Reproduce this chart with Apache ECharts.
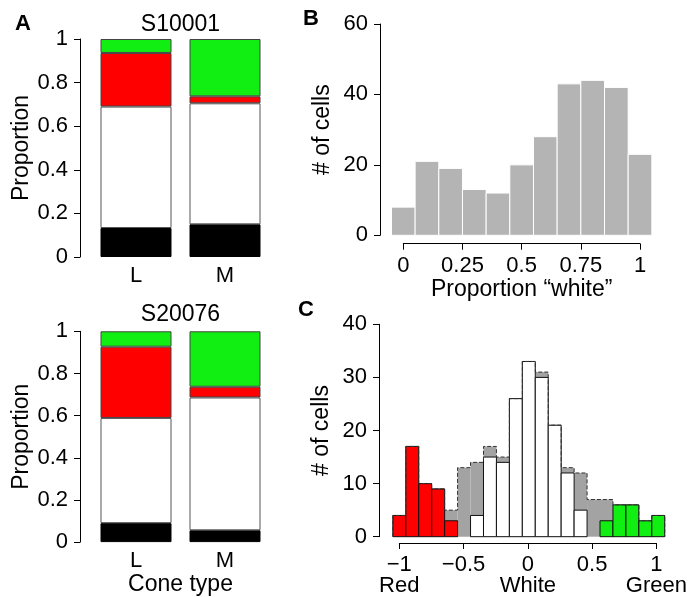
<!DOCTYPE html>
<html>
<head>
<meta charset="utf-8">
<script src="https://cdn.jsdelivr.net/npm/echarts@6/dist/echarts.min.js"></script>
<style>
  html, body { margin: 0; padding: 0; background: #fff; }
  #chart { width: 690px; height: 597px; }
</style>
</head>
<body>
<div id="chart"></div>
<script>
// panel A: proportion of each cone class, per cone type
const coneTypes = ['L', 'M'];
const s10001Black = [0.133, 0.150];
const s10001White = [0.557, 0.555];
const s10001Red = [0.246, 0.032];
const s10001Green = [0.064, 0.263];
const s20076Black = [0.090, 0.056];
const s20076White = [0.499, 0.630];
const s20076Red = [0.338, 0.051];
const s20076Green = [0.073, 0.263];

// panel B: histogram of proportion "white"
const whiteBins = [0, 0.1, 0.2, 0.3, 0.4, 0.5, 0.6, 0.7, 0.8, 0.9, 1.0];
const whiteCounts = [8, 21, 19, 13, 12, 20, 28, 43, 44, 42, 23];

// panel C: red-white-green index histogram
const indexBins = [-1.0, -0.9, -0.8, -0.7, -0.6, -0.5, -0.4, -0.3, -0.2, -0.1, 0,
  0.1, 0.2, 0.3, 0.4, 0.5, 0.6, 0.7, 0.8, 0.9, 1.0];
const totalCounts = [4, 17, 10, 9, 5, 13, 14, 17, 15, 26, 33, 31, 21, 13, 12, 7, 7, 6, 6, 3, 4];
const redCounts = [4, 17, 10, 9, 3, 0, 0, 0, 0, 0, 0, 0, 0, 0, 0, 0, 0, 0, 0, 0, 0];
const whiteIdxCounts = [0, 0, 0, 0, 0, 0, 4, 15, 14, 26, 33, 30, 21, 12, 5, 0, 0, 0, 0, 0, 0];
const greenCounts = [0, 0, 0, 0, 0, 0, 0, 0, 0, 0, 0, 0, 0, 0, 0, 0, 3, 6, 6, 3, 4];
const indexEnds = {'-1': 'Red', '0': 'White', '1': 'Green'};

const FONT = '"Liberation Sans", Arial, sans-serif';
const RED = '#ff0000';
const GREEN = '#11ee11';
const halfBin = 0.05;

const chart = echarts.init(document.getElementById('chart'));

function stackSeries(idx, black, white, red, green) {
  const parts = [[black, '#000', '#000'], [white, '#fff', '#555'], [red, RED, '#444'], [green, GREEN, '#444']];
  return parts.map(function (p) {
    return {
      type: 'bar', xAxisIndex: idx, yAxisIndex: idx, stack: 'a' + idx,
      barWidth: 71, data: p[0], silent: true,
      itemStyle: {color: p[1], borderColor: p[2], borderWidth: 1}
    };
  });
}

function histSeries(idx, bins, counts, fill, stroke) {
  return {
    type: 'custom', xAxisIndex: idx, yAxisIndex: idx, silent: true,
    data: bins.map(function (b, i) { return [b, counts[i]]; }),
    renderItem: function (params, api) {
      const x = api.value(0), v = api.value(1);
      if (!v) return null;
      const p0 = api.coord([x - halfBin, v]);
      const p1 = api.coord([x + halfBin, 0]);
      return {
        type: 'rect',
        shape: {x: p0[0], y: p0[1], width: p1[0] - p0[0], height: p1[1] - p0[1]},
        style: {fill: fill, stroke: stroke, lineWidth: 1}
      };
    }
  };
}

// outline of the total histogram as a step path
const outline = [[indexBins[0] - halfBin, 0]];
indexBins.forEach(function (b, i) {
  outline.push([b - halfBin, totalCounts[i]]);
  outline.push([b + halfBin, totalCounts[i]]);
});
outline.push([indexBins[indexBins.length - 1] + halfBin, 0]);

const tickStyle = {show: true, inside: false, length: 6, lineStyle: {color: '#000', width: 1}};
function axisLine() { return {show: true, onZero: false, lineStyle: {color: '#000', width: 1}}; }
const labelStyle = {color: '#000', fontSize: 22, fontFamily: FONT, showMinLabel: true, showMaxLabel: true};
const nameStyle = {color: '#000', fontSize: 23, fontFamily: FONT};

function valueY(idx, max, interval, name, gap, offset) {
  return {
    type: 'value', gridIndex: idx, min: 0, max: max, interval: interval, offset: offset || 0,
    name: name, nameLocation: 'middle', nameGap: gap, nameTextStyle: nameStyle,
    axisLine: axisLine(), axisTick: tickStyle, splitLine: {show: false},
    axisLabel: Object.assign({margin: 12}, labelStyle)
  };
}

function hiddenAxis(idx, min, max) {
  return {type: 'value', gridIndex: idx, min: min, max: max, show: false, splitLine: {show: false},
    axisLine: {onZero: false}};
}

const minus = function (v) { return String(v).replace('-', '\u2212'); };

const option = {
  backgroundColor: '#fff',
  animation: false,
  grid: [
    {left: 91.5, width: 178, top: 39, height: 218},
    {left: 91.5, width: 178, top: 331.3, height: 218},
    {left: 380, width: 283.3, top: 24, height: 211.3},
    {left: 403.3, width: 236.7, top: 233.7, height: 10},
    {left: 379, width: 299.6, top: 324.3, height: 212.4},
    {left: 399.3, width: 259, top: 534, height: 10}
  ],
  xAxis: [
    {type: 'category', gridIndex: 0, data: coneTypes, axisLine: {show: false}, axisTick: {show: false},
      axisLabel: Object.assign({margin: 8}, labelStyle)},
    {type: 'category', gridIndex: 1, data: coneTypes, axisLine: {show: false}, axisTick: {show: false},
      axisLabel: Object.assign({margin: 8}, labelStyle),
      name: 'Cone type', nameLocation: 'middle', nameGap: 27, nameTextStyle: nameStyle},
    hiddenAxis(2, -0.0984, 1.0984),
    {type: 'value', gridIndex: 3, min: 0, max: 1, interval: 0.25, position: 'bottom',
      axisLine: axisLine(), axisTick: tickStyle, splitLine: {show: false},
      axisLabel: Object.assign({margin: 11}, labelStyle),
      name: 'Proportion \u201cwhite\u201d', nameLocation: 'middle', nameGap: 34, nameTextStyle: nameStyle},
    hiddenAxis(4, -1.157, 1.157),
    {type: 'value', gridIndex: 5, min: -1, max: 1, interval: 0.5, position: 'bottom',
      axisLine: axisLine(), axisTick: tickStyle, splitLine: {show: false},
      axisLabel: Object.assign({margin: 11, formatter: minus}, labelStyle)},
    {type: 'value', gridIndex: 5, min: -1, max: 1, interval: 0.5, position: 'bottom',
      axisLine: {show: false, onZero: false}, axisTick: {show: false}, splitLine: {show: false},
      axisLabel: Object.assign({margin: 32, formatter: function (v) { return indexEnds[String(v)] || ''; }}, labelStyle)}
  ],
  yAxis: [
    valueY(0, 1, 0.2, 'Proportion', 46, 11.5),
    valueY(1, 1, 0.2, 'Proportion', 46, 11.5),
    valueY(2, 60, 20, '# of cells', 46),
    hiddenAxis(3, 0, 1),
    valueY(4, 40, 10, '# of cells', 46),
    hiddenAxis(5, 0, 1)
  ],
  graphic: [
    {type: 'text', left: 15, top: 13, style: {text: 'A', font: 'bold 22px ' + FONT, fill: '#000'}},
    {type: 'text', left: 303, top: 8, style: {text: 'B', font: 'bold 22px ' + FONT, fill: '#000'}},
    {type: 'text', left: 298, top: 299, style: {text: 'C', font: 'bold 22px ' + FONT, fill: '#000'}},
    {type: 'text', x: 180.5, y: 24.5, style: {text: 'S10001', font: '23px ' + FONT, fill: '#000', textAlign: 'center', textVerticalAlign: 'middle'}},
    {type: 'text', x: 180.5, y: 315, style: {text: 'S20076', font: '23px ' + FONT, fill: '#000', textAlign: 'center', textVerticalAlign: 'middle'}}
  ],
  series: [].concat(
    stackSeries(0, s10001Black, s10001White, s10001Red, s10001Green),
    stackSeries(1, s20076Black, s20076White, s20076Red, s20076Green),
    [
      histSeries(2, whiteBins, whiteCounts, '#b4b4b4', '#fff'),
      histSeries(4, indexBins, totalCounts, '#a3a3a3', null),
      {
        type: 'line', xAxisIndex: 4, yAxisIndex: 4, data: outline, symbol: 'none', silent: true,
        lineStyle: {color: '#333', width: 1, type: [4, 2]}
      },
      histSeries(4, indexBins, whiteIdxCounts, '#fff', '#111'),
      histSeries(4, indexBins, redCounts, RED, '#111'),
      histSeries(4, indexBins, greenCounts, GREEN, '#111')
    ]
  )
};

chart.setOption(option);
</script>
</body>
</html>
